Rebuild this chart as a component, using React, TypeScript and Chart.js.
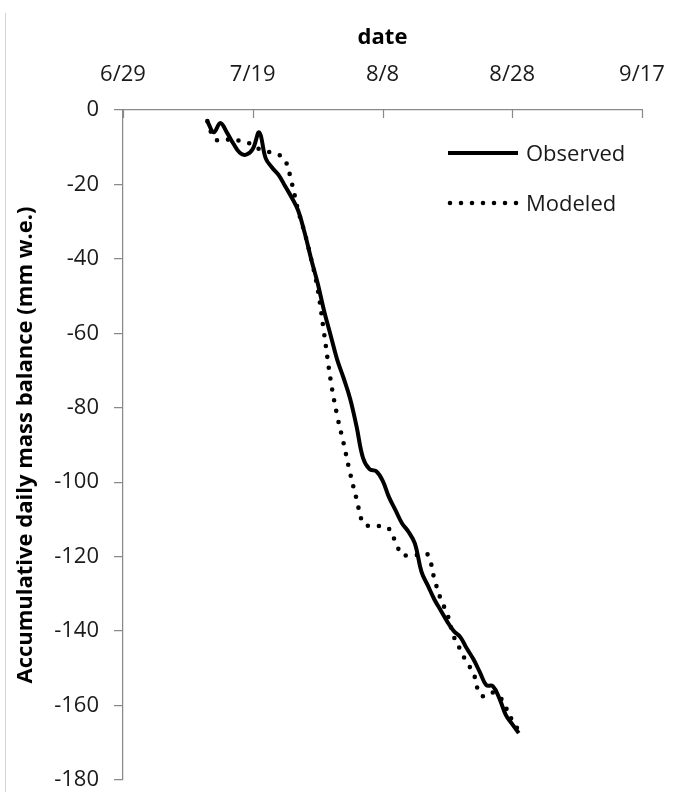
import React, { useEffect, useRef } from "react";
import { Chart, registerables } from "chart.js";

Chart.register(...registerables);

// ---- data ----
const dates = [
  "7/12", "7/13", "7/14", "7/15", "7/16", "7/17", "7/18", "7/19", "7/20", "7/21",
  "7/22", "7/23", "7/24", "7/25", "7/26", "7/27", "7/28", "7/29", "7/30", "7/31",
  "8/1", "8/2", "8/3", "8/4", "8/5", "8/6", "8/7", "8/8", "8/9", "8/10",
  "8/11", "8/12", "8/13", "8/14", "8/15", "8/16", "8/17", "8/18", "8/19", "8/20",
  "8/21", "8/22", "8/23", "8/24", "8/25", "8/26", "8/27", "8/28", "8/29",
];

const observed = [
  -3, -6, -3.5, -6, -9, -11.5, -12, -10.5, -6, -13,
  -15.5, -17.5, -20.5, -23.5, -27, -33, -40, -46.5, -54, -60.5,
  -67, -72, -77.5, -85, -93.5, -96.5, -97, -99.5, -104, -107.5,
  -111, -113.3, -116.5, -124, -127.8, -131.5, -134.5, -137.5, -140, -141.6,
  -144.7, -147.5, -151, -154.5, -154.8, -158, -162.5, -165, -167.4,
];

const modeled = [
  -3, -7.5, -8.3, -8, -7.8, -8.3, -8.6, -9.5, -10.5, -11,
  -11.5, -12, -13.5, -19.5, -27, -33, -40, -48, -60, -72.5,
  -82, -89.5, -97.5, -104.5, -111, -111.8, -111.8, -111.8, -112.5, -116,
  -119.5, -119.6, -119.6, -119.5, -119.5, -126, -131.5, -135.5, -141.5, -145,
  -148.5, -151.2, -157, -157.5, -156.5, -157.5, -160.5, -164, -166.7,
];

const xTickLabels = ["6/29", "7/19", "8/8", "8/28", "9/17"];
const xTitle = "date";
const yTitle = "Accumulative daily mass balance (mm w.e.)";
const seriesNames = ["Observed", "Modeled"];
const yMin = -180;
const yMax = 0;
const yStep = 20;

// ---- helpers ----
const originDate = xTickLabels[0];
function toUTC(s: string): number {
  const [m, d] = s.split("/").map(Number);
  return Date.UTC(2013, m - 1, d);
}
function dayOffset(s: string): number {
  return (toUTC(s) - toUTC(originDate)) / 86400000;
}
const xMax = dayOffset(xTickLabels[xTickLabels.length - 1]);
const xStep = dayOffset(xTickLabels[1]);

const FONT = '"Open Sans", "Noto Sans", sans-serif';
const AXIS_GRAY = "#8a8a8a";

const framePlugin = {
  id: "frame",
  beforeDraw(chart: any) {
    const ctx = chart.ctx;
    ctx.save();
    ctx.strokeStyle = "#d4d4d4";
    ctx.lineWidth = 1;
    ctx.beginPath();
    ctx.moveTo(5.5, 13);
    ctx.lineTo(5.5, 792);
    ctx.stroke();
    ctx.restore();
  },
  afterDraw(chart: any) {
    const ctx = chart.ctx;
    const xs = chart.scales.x;
    const top = chart.chartArea.top;
    ctx.save();
    ctx.strokeStyle = AXIS_GRAY;
    ctx.lineWidth = 1.25;
    xs.ticks.forEach((t: any) => {
      const px = Math.round(xs.getPixelForValue(t.value)) + 0.5;
      ctx.beginPath();
      ctx.moveTo(px, top);
      ctx.lineTo(px, top + 8);
      ctx.stroke();
    });
    // legend
    chart.data.datasets.forEach((ds: any, i: number) => {
      const y = 153 + i * 50;
      ctx.save();
      ctx.strokeStyle = ds.borderColor;
      ctx.lineWidth = ds.borderWidth;
      ctx.lineCap = ds.borderCapStyle || "butt";
      ctx.setLineDash(ds.borderDash || []);
      ctx.beginPath();
      if (ds.borderDash && ds.borderDash.length) {
        ctx.moveTo(450, y);
        ctx.lineTo(517, y);
      } else {
        ctx.moveTo(448, y);
        ctx.lineTo(518, y);
      }
      ctx.stroke();
      ctx.restore();
      ctx.fillStyle = "#1a1a1a";
      ctx.font = `22px ${FONT}`;
      ctx.textBaseline = "alphabetic";
      ctx.textAlign = "left";
      ctx.fillText(ds.label, 526, y + 8.3);
    });
    ctx.restore();
  },
};

export default function App() {
  const ref = useRef<HTMLCanvasElement | null>(null);

  useEffect(() => {
    if (!ref.current) return;
    const toPoints = (vals: number[]) => dates.map((d, i) => ({ x: dayOffset(d), y: vals[i] }));
    const chart = new Chart(ref.current, {
      type: "line",
      data: {
        datasets: [
          {
            label: seriesNames[0],
            data: toPoints(observed),
            borderColor: "#000000",
            borderWidth: 4,
            borderJoinStyle: "round",
            pointRadius: 0,
            tension: 0.4,
            fill: false,
          },
          {
            label: seriesNames[1],
            data: toPoints(modeled),
            borderColor: "#000000",
            borderWidth: 4.6,
            borderDash: [0, 11],
            borderCapStyle: "round",
            pointRadius: 0,
            tension: 0.4,
            fill: false,
          },
        ],
      },
      options: {
        animation: false,
        responsive: false,
        maintainAspectRatio: false,
        layout: { padding: { left: 0, top: 0, right: 34, bottom: 12 } },
        plugins: {
          legend: { display: false },
          tooltip: { enabled: false },
        },
        scales: {
          x: {
            type: "linear",
            position: "top",
            min: 0,
            max: xMax,
            afterFit: (s: any) => {
              s.height = 110;
              s.paddingLeft = 0;
              s.paddingRight = 0;
            },
            ticks: {
              stepSize: xStep,
              padding: 22,
              color: "#1a1a1a",
              font: { family: FONT, size: 22 },
              callback: (v: any) => xTickLabels[Math.round(Number(v) / xStep)] ?? "",
              maxRotation: 0,
              autoSkip: false,
            },
            grid: { display: true, drawOnChartArea: false, drawTicks: false, color: AXIS_GRAY },
            border: { display: true, color: AXIS_GRAY, width: 1.25 },
            title: {
              display: true,
              text: xTitle,
              color: "#000",
              font: { family: FONT, size: 22, weight: "bold" },
              padding: { top: 25, bottom: 0 },
            },
          },
          y: {
            type: "linear",
            min: yMin,
            max: yMax,
            afterFit: (s: any) => {
              s.width = 123;
              s.paddingTop = 0;
              s.paddingBottom = 0;
            },
            ticks: {
              stepSize: yStep,
              padding: 15,
              color: "#1a1a1a",
              font: { family: FONT, size: 22 },
            },
            grid: { display: true, drawOnChartArea: false, drawTicks: true, tickLength: 9, color: AXIS_GRAY, lineWidth: 1.25 },
            border: { display: true, color: AXIS_GRAY, width: 1.25 },
            title: {
              display: true,
              text: yTitle,
              color: "#000",
              font: { family: FONT, size: 22, weight: "bold" },
              padding: { top: 13, bottom: 0 },
            },
          },
        },
      },
      plugins: [framePlugin],
    });
    return () => chart.destroy();
  }, []);

  return (
    <div style={{ position: "absolute", left: 0, top: 0, width: 676, height: 792, background: "#fff" }}>
      <canvas ref={ref} width={676} height={792} style={{ display: "block", width: 676, height: 792 }} />
    </div>
  );
}
